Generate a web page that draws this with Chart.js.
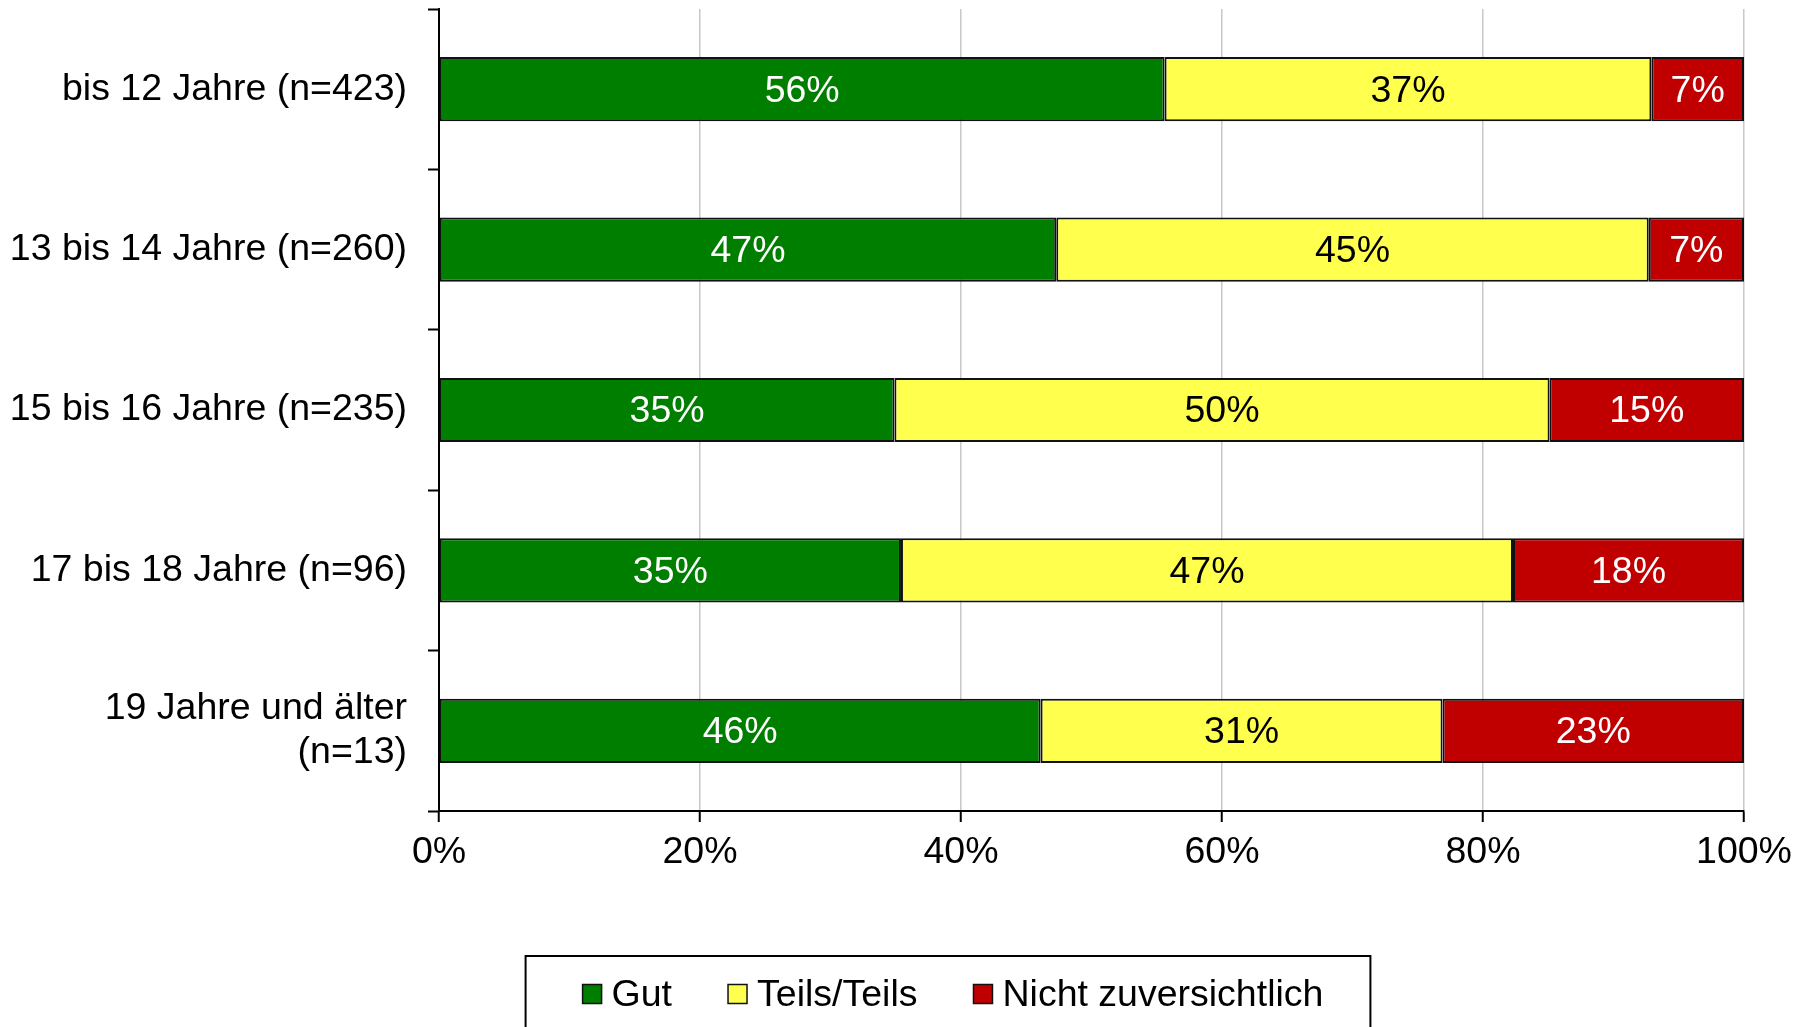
<!DOCTYPE html>
<html>
<head>
<meta charset="utf-8">
<script src="https://cdn.jsdelivr.net/npm/chart.js@4.4.1/dist/chart.umd.min.js"></script>
<style>
    html, body { margin: 0; padding: 0; background: #fff; }
</style>
</head>
<body>
<canvas id="age-chart" width="1795" height="1027"></canvas>
<script>
var categories = [
    'bis 12 Jahre (n=423)',
    '13 bis 14 Jahre (n=260)',
    '15 bis 16 Jahre (n=235)',
    '17 bis 18 Jahre (n=96)',
    ['19 Jahre und älter', '(n=13)']
];
var seriesNames = ['Gut', 'Teils/Teils', 'Nicht zuversichtlich'];
var gut   = [55.6, 47.3, 34.9, 35.4, 46.1];
var teils = [37.3, 45.4, 50.2, 46.9, 30.8];
var nicht = [7.1, 7.3, 14.9, 17.7, 23.1];
var xTicks = [0, 20, 40, 60, 80, 100];

(function(Chart) {
    var $canvas = document.getElementById('age-chart');
    if (!$canvas) return;

    var FONT = 'Liberation Sans, Arial, sans-serif';
    var SIZE = 37.5;
    var font = {family: FONT, size: SIZE, lineHeight: 1.16};

    // value labels centred in every bar segment
    var segmentLabels = {
        id: 'segmentLabels',
        afterDatasetsDraw: function(chart) {
            var ctx = chart.ctx;
            ctx.save();
            ctx.font = SIZE + 'px ' + FONT;
            ctx.textAlign = 'center';
            ctx.textBaseline = 'middle';
            chart.data.datasets.forEach(function(ds, i) {
                chart.getDatasetMeta(i).data.forEach(function(bar, j) {
                    var p = bar.getCenterPoint();
                    ctx.fillStyle = ds.labelColor;
                    ctx.fillText(Math.round(ds.data[j]) + '%', p.x, p.y + 2);
                });
            });
            ctx.restore();
        }
    };

    // legend inside a framed box below the axis
    var boxedLegend = {
        id: 'boxedLegend',
        afterDraw: function(chart) {
            var ctx = chart.ctx;
            var sets = chart.data.datasets;
            var box = 19, gap = 10, spacing = 56;
            ctx.save();
            ctx.font = SIZE + 'px ' + FONT;
            var widths = sets.map(function(ds) { return box + gap + ctx.measureText(ds.label).width; });
            var total = widths.reduce(function(a, b) { return a + b; }, 0) + spacing * (sets.length - 1);
            var x = 953 - total / 2, cy = 994;

            ctx.strokeStyle = '#000';
            ctx.lineWidth = 2;
            ctx.strokeRect(x - 57, 956, total + 57 + 47, 120);

            ctx.textAlign = 'left';
            ctx.textBaseline = 'middle';
            sets.forEach(function(ds, i) {
                ctx.fillStyle = ds.backgroundColor;
                ctx.fillRect(x, cy - box / 2, box, box);
                ctx.lineWidth = 1.5;
                ctx.strokeStyle = '#111';
                ctx.strokeRect(x, cy - box / 2, box, box);
                ctx.fillStyle = '#000';
                ctx.fillText(ds.label, x + box + gap, cy + 2);
                x += widths[i] + spacing;
            });
            ctx.restore();
        }
    };

    function series(label, data, color, labelColor) {
        return {
            label: label,
            data: data,
            backgroundColor: color,
            borderColor: '#111',
            borderWidth: 2,
            borderSkipped: false,
            labelColor: labelColor,
            categoryPercentage: 0.4,
            barPercentage: 1
        };
    }

    new Chart($canvas, {
        type: 'bar',
        data: {
            labels: categories,
            datasets: [
                series(seriesNames[0], gut, '#007e00', '#fff'),
                series(seriesNames[1], teils, '#ffff4d', '#000'),
                series(seriesNames[2], nicht, '#c00000', '#fff')
            ]
        },
        options: {
            indexAxis: 'y',
            responsive: false,
            animation: false,
            devicePixelRatio: 1,
            layout: {padding: {top: 9, right: 51, left: 0, bottom: 0}},
            plugins: {legend: {display: false}, tooltip: {enabled: false}},
            scales: {
                x: {
                    stacked: true,
                    min: 0,
                    max: 100,
                    afterBuildTicks: function(s) { s.ticks = xTicks.map(function(v) { return {value: v}; }); },
                    afterFit: function(s) { s.height = 216; s.paddingLeft = 0; s.paddingRight = 0; },
                    ticks: {font: font, color: '#000', padding: 9, maxRotation: 0, callback: function(v) { return v + '%'; }},
                    grid: {color: '#c8c8c8', lineWidth: 1.5, tickColor: '#000', tickLength: 11, tickWidth: 2},
                    border: {color: '#000', width: 2}
                },
                y: {
                    stacked: true,
                    afterFit: function(s) { s.width = 439; s.paddingTop = 0; s.paddingBottom = 0; },
                    ticks: {font: font, color: '#000', padding: 21},
                    grid: {drawOnChartArea: false, tickColor: '#000', tickLength: 11, tickWidth: 2},
                    border: {color: '#000', width: 2}
                }
            }
        },
        plugins: [segmentLabels, boxedLegend]
    });
})(Chart);
</script>
</body>
</html>
